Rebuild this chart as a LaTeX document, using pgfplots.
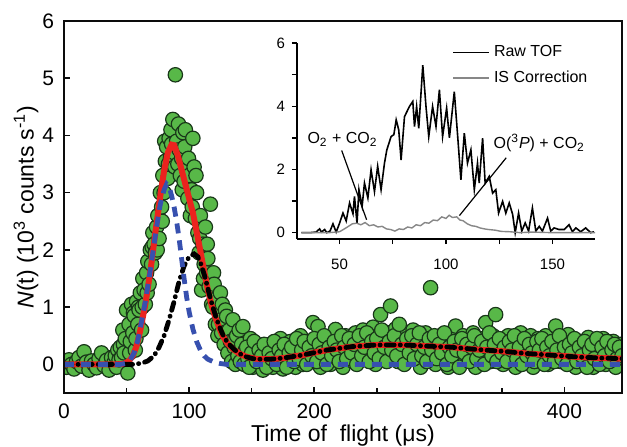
\documentclass[border=0pt]{standalone}
\usepackage{fontspec}
\setmainfont{Liberation Sans}
\usepackage{pgfplots}
\usepackage{pgfplotstable}
\pgfplotsset{compat=1.18}
\definecolor{dotgreen}{RGB}{88,184,72}
\definecolor{dotedge}{RGB}{25,55,25}
\definecolor{fitred}{RGB}{235,35,30}
\definecolor{fastblue}{RGB}{55,80,175}
\definecolor{isgray}{RGB}{135,135,135}
\definecolor{framedark}{RGB}{12,12,12}

% measured counts
\pgfplotstableread{
t n
0 0.02
2 -0.05
4 0.08
6 0.0
8 -0.08
10 0.05
12 0.12
14 -0.03
16 0.22
18 0.04
20 -0.1
22 0.06
24 0.0
26 -0.06
28 0.1
30 0.2
32 -0.02
34 0.07
36 -0.1
38 0.12
40 0.03
41 0.15
42 -0.05
43 0.25
44 0.08
45 0.3
46 0.12
47 0.6
47.5 0.35
48 0.2
49 0.45
50 0.95
51 -0.15
52 0.7
52.5 0.2
53 0.4
54 1.05
55 0.55
55.5 0.9
56 0.85
57 0.25
57.5 0.45
58 1.1
59 0.7
59.5 1.0
60 0.95
61 1.25
62 0.6
62.5 1.0
63 1.5
64 1.3
65 1.05
66 1.6
66.5 1.25
67 1.8
68 1.4
69 2.0
70 1.75
70.5 2.05
71 2.3
72 2.1
73 1.95
74 2.4
74.5 2.0
75 2.6
76 2.2
77 3.0
78 2.75
78.5 2.5
79 3.3
80 3.0
80.5 3.9
81 3.55
82 3.8
83 3.25
83.5 3.5
84 3.95
85 3.6
85.5 4.1
86 3.85
87 4.28
88 3.7
88.5 3.45
89 5.06
90 3.9
91 3.5
91.5 4.2
92 3.75
93 3.3
94 3.6
94.5 3.05
95 4.05
96 3.2
96.5 3.8
97 4.1
98 3.4
99 2.9
99.5 3.6
100 3.3
101 2.6
102 3.05
102.5 2.75
103 3.95
104 3.45
105 2.55
105.5 3.3
106 3.0
107 2.3
108 1.95
108.5 2.2
109 2.6
110 1.3
111 2.1
111.5 1.5
112 1.75
113 2.4
114 1.6
114.5 2.1
115 1.85
116 1.36
117 2.8
118 1.05
119 1.0
119.5 1.6
120 1.4
121 0.7
122 1.15
123 0.5
123.5 0.7
124 0.9
125 1.25
126 0.55
126.5 1.05
127 0.8
128 0.35
129 0.95
130 0.84
131 0.2
131.5 0.55
132 0.6
133 0.4
134 0.05
135 0.78
136 0.3
136.5 0.45
137 0.0
138 0.5
139 0.15
140 0.6
141 0.05
142 0.35
143 0.66
144 0.0
145 0.25
147 0.1
149 0.45
151 -0.05
153 0.2
155 0.0
157 0.3
159 -0.1
161 0.15
163 0.05
165 0.35
167 -0.05
169 0.2
171 0.1
173 0.45
175 -0.08
177 0.25
179 0.05
181 0.4
183 0.12
185 -0.05
187 0.3
189 0.5
191 0.0
193 0.2
195 0.38
197 0.08
199 0.73
201 0.25
203 0.66
205 -0.05
207 0.3
209 0.12
211 0.45
213 0.0
215 0.35
217 0.61
219 0.15
221 0.4
223 -0.05
225 0.5
227 0.2
229 0.35
231 0.05
233 0.55
235 0.25
237 0.4
239 0.6
241 0.1
243 0.45
245 0.3
247 0.65
249 0.0
251 0.5
253 0.87
255 0.35
257 0.15
259 0.55
261 1.02
263 0.3
265 0.62
267 0.05
269 0.45
271 0.25
273 0.55
275 0.1
277 0.4
279 0.6
281 0.2
283 0.45
285 -0.05
287 0.35
289 0.55
291 0.15
293 1.34
295 0.4
297 0.0
299 0.3
301 0.5
303 0.1
305 0.35
307 -0.05
309 0.25
311 0.45
313 0.67
315 0.15
317 0.3
319 0.5
321 0.05
323 0.4
325 0.2
327 0.55
329 -0.05
331 0.3
333 0.45
335 0.15
337 0.73
339 0.35
341 0.05
343 0.5
345 0.87
347 0.25
349 0.4
351 0.0
353 0.35
355 0.5
357 0.15
359 0.45
361 -0.05
363 0.3
365 0.55
367 0.1
369 0.4
371 0.2
373 0.5
375 -0.05
377 0.3
379 0.45
381 0.1
383 0.25
385 0.5
387 0.0
389 0.35
391 0.15
393 0.67
395 0.3
397 0.05
399 0.45
401 0.2
403 0.52
405 0.1
407 0.35
409 -0.05
411 0.25
413 0.4
415 0.05
417 0.3
419 0.47
421 0.15
423 -0.05
425 0.35
427 0.1
429 0.25
431 0.45
433 0.0
435 0.3
437 0.15
439 0.4
441 -0.05
443 0.2
445 0.35
146 0.3
148 -0.05
150 0.2
152 0.4
154 0.05
156 0.25
158 0.15
160 0.35
162 -0.05
164 0.2
166 0.1
168 0.4
170 0.0
172 0.25
174 0.15
176 0.35
178 -0.05
180 0.2
182 0.3
184 0.05
186 0.45
188 0.1
190 0.25
192 0.4
194 0.0
196 0.3
198 0.15
200 0.45
202 0.05
204 0.35
206 0.2
208 0.5
210 0.0
212 0.3
214 0.15
216 0.4
218 0.25
220 0.05
222 0.5
224 0.3
226 0.1
228 0.45
230 0.2
232 0.35
234 0.0
236 0.5
238 0.15
240 0.3
242 0.55
244 0.05
246 0.4
248 0.2
250 0.45
252 0.1
254 0.6
256 0.3
258 0.05
260 0.4
262 0.25
264 0.5
266 0.15
268 0.7
270 0.35
272 0.0
274 0.45
276 0.2
278 0.5
280 0.1
282 0.35
284 0.55
286 0.15
288 0.3
290 0.05
292 0.45
294 0.25
296 0.5
298 0.1
300 0.35
302 0.2
304 0.55
306 0.0
308 0.3
310 0.15
312 0.4
314 0.25
316 -0.05
318 0.45
320 0.2
322 0.35
324 0.05
326 0.3
328 0.5
330 0.1
332 0.25
334 0.4
336 0.0
338 0.3
340 0.55
342 0.15
344 0.35
346 0.05
348 0.45
350 0.2
352 0.3
354 0.05
356 0.4
358 0.25
360 0.5
362 0.1
364 0.3
366 0.0
368 0.45
370 0.15
372 0.35
374 0.2
376 0.05
378 0.4
380 0.25
382 0.45
384 0.0
386 0.3
388 0.15
390 0.4
392 0.05
394 0.25
396 0.5
398 0.1
400 0.3
402 0.0
404 0.35
406 0.2
408 0.45
410 0.05
412 0.3
414 0.15
416 0.4
418 -0.05
420 0.25
422 0.35
424 0.1
426 0.45
428 0.0
430 0.3
432 0.15
434 0.4
436 0.05
438 0.25
440 0.35
442 0.1
444 0.3
446 0.15
}\counts

% total fit
\pgfplotstableread{
t n
0 0
40 0
48 0.01
52 0.06
55 0.15
58 0.32
61 0.6
65 1.05
69 1.62
73 2.3
77 2.95
80 3.38
83 3.7
86 3.84
88 3.83
91 3.65
94 3.4
97 3.15
100 2.9
103 2.65
106 2.32
109 1.98
112 1.63
115 1.3
118 1.03
121 0.82
124 0.64
127 0.49
131 0.36
135 0.27
140 0.19
145 0.14
150 0.11
156 0.09
165 0.09
175 0.11
190 0.16
210 0.25
230 0.31
250 0.34
270 0.34
290 0.32
310 0.3
330 0.26
350 0.23
370 0.19
390 0.16
410 0.13
430 0.11
446 0.1
}\totalfit

% fast component
\pgfplotstableread{
t n
0 0
45 0
50 0.02
53 0.08
56 0.2
59 0.42
62 0.75
65 1.1
68 1.5
71 1.95
74 2.4
77 2.8
80 3.05
82 3.15
84 3.1
86 2.95
88 2.75
90 2.5
92 2.2
94 1.85
96 1.5
98 1.18
100 0.92
103 0.62
106 0.4
109 0.25
112 0.15
115 0.09
120 0.04
125 0.015
130 0
446 0
}\fastpart

% slow component
\pgfplotstableread{
t n
0 0
55 0
62 0.02
67 0.06
72 0.15
76 0.3
80 0.5
84 0.78
88 1.1
92 1.45
96 1.72
100 1.88
104 1.93
107 1.88
110 1.72
113 1.5
116 1.24
119 1.0
122 0.79
125 0.62
128 0.47
132 0.35
136 0.26
141 0.18
146 0.13
151 0.1
157 0.09
165 0.09
175 0.11
190 0.16
210 0.25
230 0.31
250 0.34
270 0.34
290 0.32
310 0.3
330 0.26
350 0.23
370 0.19
390 0.16
410 0.13
430 0.11
446 0.1
}\slowpart

% inset: raw time-of-flight trace
\pgfplotstableread{
t n
32 0
36 0
39 0.02
40.6 0.12
41.5 0.02
43 0.1
44 0.0
45.5 0.05
46.9 0.28
48.4 0.02
50 0.3
51.6 0.62
53.1 0.37
54.7 0.94
56.3 0.6
57 1.15
58.2 0.3
59.1 1.36
60.6 0.84
61.7 1.57
63.3 1.1
64.8 1.99
66.4 1.3
67.9 2.1
69.5 1.36
71.1 2.2
72.2 2.62
74.2 3.04
75.5 3.1
76.6 3.57
77.8 3.25
78.9 2.3
80.5 3.67
82.8 3.99
84.4 4.15
85.2 3.36
86.2 3.99
87.2 3.3
89.1 5.3
90.6 3.99
91.9 3.04
93.7 3.99
95.3 3.36
96.9 4.52
98.4 3.04
100.3 3.94
101.6 3.0
103.9 4.46
105.5 3.04
107 1.67
108.6 3.15
110.1 2.2
111.7 2.62
113.3 1.36
114.8 2.2
115.6 1.57
117.2 2.99
118.4 1.57
120.3 1.78
121.9 1.25
123.4 1.36
124.7 0.62
126.6 0.99
128.1 0.62
129.7 0.94
131.3 0.58
132.5 0
134.1 0.62
135.6 0.05
137.2 0.31
138.8 0.05
140.6 0.78
142.2 0.05
143.8 0.2
145.3 0.05
147.7 0.46
149.2 0.05
150.8 0.15
153.1 0.1
155.5 0.1
157.8 0.25
159.4 0.03
161 0.15
163.3 0.03
165.6 0.15
168 0.0
169.5 0.03
}\rawtof

% inset: IS correction
\pgfplotstableread{
t n
32 0
45 0
50 0.03
53 0.15
56 0.28
58 0.3
60 0.25
62 0.32
64 0.22
66 0.25
68 0.18
70 0.2
72 0.12
74 0.1
76 0.05
78 0.12
80 0.1
82 0.18
84 0.15
86 0.25
88 0.22
90 0.32
92 0.3
94 0.4
96 0.38
98 0.5
100 0.45
101.5 0.55
103 0.48
105 0.5
106.5 0.4
108 0.38
110 0.28
112 0.22
114 0.2
116 0.15
118 0.12
120 0.1
123 0.08
126 0.04
130 0.03
135 0.0
140 0.02
150 0
170 0
}\iscorr

\begin{document}
\begin{tikzpicture}
\useasboundingbox (-32pt,-26.5pt) rectangle (281.5pt,196.5pt);
\begin{axis}[
    name=main,
    at={(0pt,0pt)}, anchor=south west,
    width=279pt, height=186pt, scale only axis,
    xmin=0, xmax=446, ymin=-0.5, ymax=6,
    xtick={0,100,...,400}, minor xtick={50,150,250,350},
    ytick={0,1,...,6},
    tick align=inside, tick pos=left,
    major tick length=3pt, minor tick length=2.5pt,
    every tick/.append style={framedark, line width=0.8pt},
    clip marker paths=true,
    /pgf/number format/assume math mode=true,
    tick label style={font=\fontsize{10.5}{12}\selectfont},
    xticklabel style={yshift=-2pt},
    yticklabel style={xshift=-1.5pt},
    xlabel={Time of~\ flight (μs)},
    ylabel={\textit{N}(t) (10\textsuperscript{3} counts s\textsuperscript{-1})},
    xlabel style={at={(axis description cs:0.5,-0.115)}, anchor=center,
        font=\fontsize{11.5}{13}\selectfont},
    ylabel style={at={(axis description cs:-0.068,0.5)}, anchor=center,
        font=\fontsize{11.5}{13}\selectfont},
]
\addplot[only marks, mark=*, mark size=3.6pt,
    mark options={fill=dotgreen, draw=dotedge, line width=0.6pt}]
    table[x=t, y=n] {\counts};
\addplot[fitred, line width=3pt] table[x=t, y=n] {\totalfit};
\addplot[black, line width=2.4pt, line cap=round,
    dash pattern=on 4pt off 3pt on 0.1pt off 3pt] table[x=t, y=n] {\slowpart};
\addplot[fastblue, line width=2.4pt, dash pattern=on 5pt off 3.5pt]
    table[x=t, y=n] {\fastpart};
\end{axis}
% frame of the main panel
\draw[framedark, line width=1.3pt] (main.south west) rectangle (main.north east);

\begin{axis}[
    at={(116.5pt,77pt)}, anchor=south west,
    width=149pt, height=98pt, scale only axis,
    xmin=30, xmax=170, ymin=-0.2, ymax=6,
    axis lines=left, axis line style={-, line width=0.8pt},
    xtick={50,100,150}, minor xtick={75,125},
    ytick={0,2,4,6}, minor ytick={1,3,5},
    tick align=outside, major tick length=2.5pt, minor tick length=2.5pt,
    every tick/.append style={black, line width=0.7pt},
    /pgf/number format/assume math mode=true,
    tick label style={font=\fontsize{7.5}{9}\selectfont},
    xticklabel style={yshift=-4pt},
    clip=false,
    legend style={draw=none, fill=none, at={(rel axis cs:0.5,1.03)},
        anchor=north west, font=\fontsize{8}{9.5}\selectfont,
        row sep=1.5pt},
    legend cell align=left,
    legend image code/.code={\draw[#1] (0pt,0pt) -- (18pt,0pt);},
]
\addplot[black, line width=0.8pt] table[x=t, y=n] {\rawtof};
\addlegendentry{Raw TOF}
\addplot[isgray, line width=0.7pt] table[x=t, y=n] {\iscorr};
\addlegendentry{IS Correction}
\node[font=\fontsize{8}{9.5}\selectfont] at (axis cs:51.4,2.94)
    {O\textsubscript{2} + CO\textsubscript{2}};
\draw[line width=0.6pt] (axis cs:51,2.6) -- (axis cs:62.7,0.41);
\node[font=\fontsize{8}{9.5}\selectfont] at (axis cs:143.8,2.84)
    {O(\textsuperscript{3}\textit{P}) + CO\textsubscript{2}};
\draw[line width=0.6pt] (axis cs:128.3,2.37) -- (axis cs:106.3,0.54);
\end{axis}
\end{tikzpicture}
\end{document}
